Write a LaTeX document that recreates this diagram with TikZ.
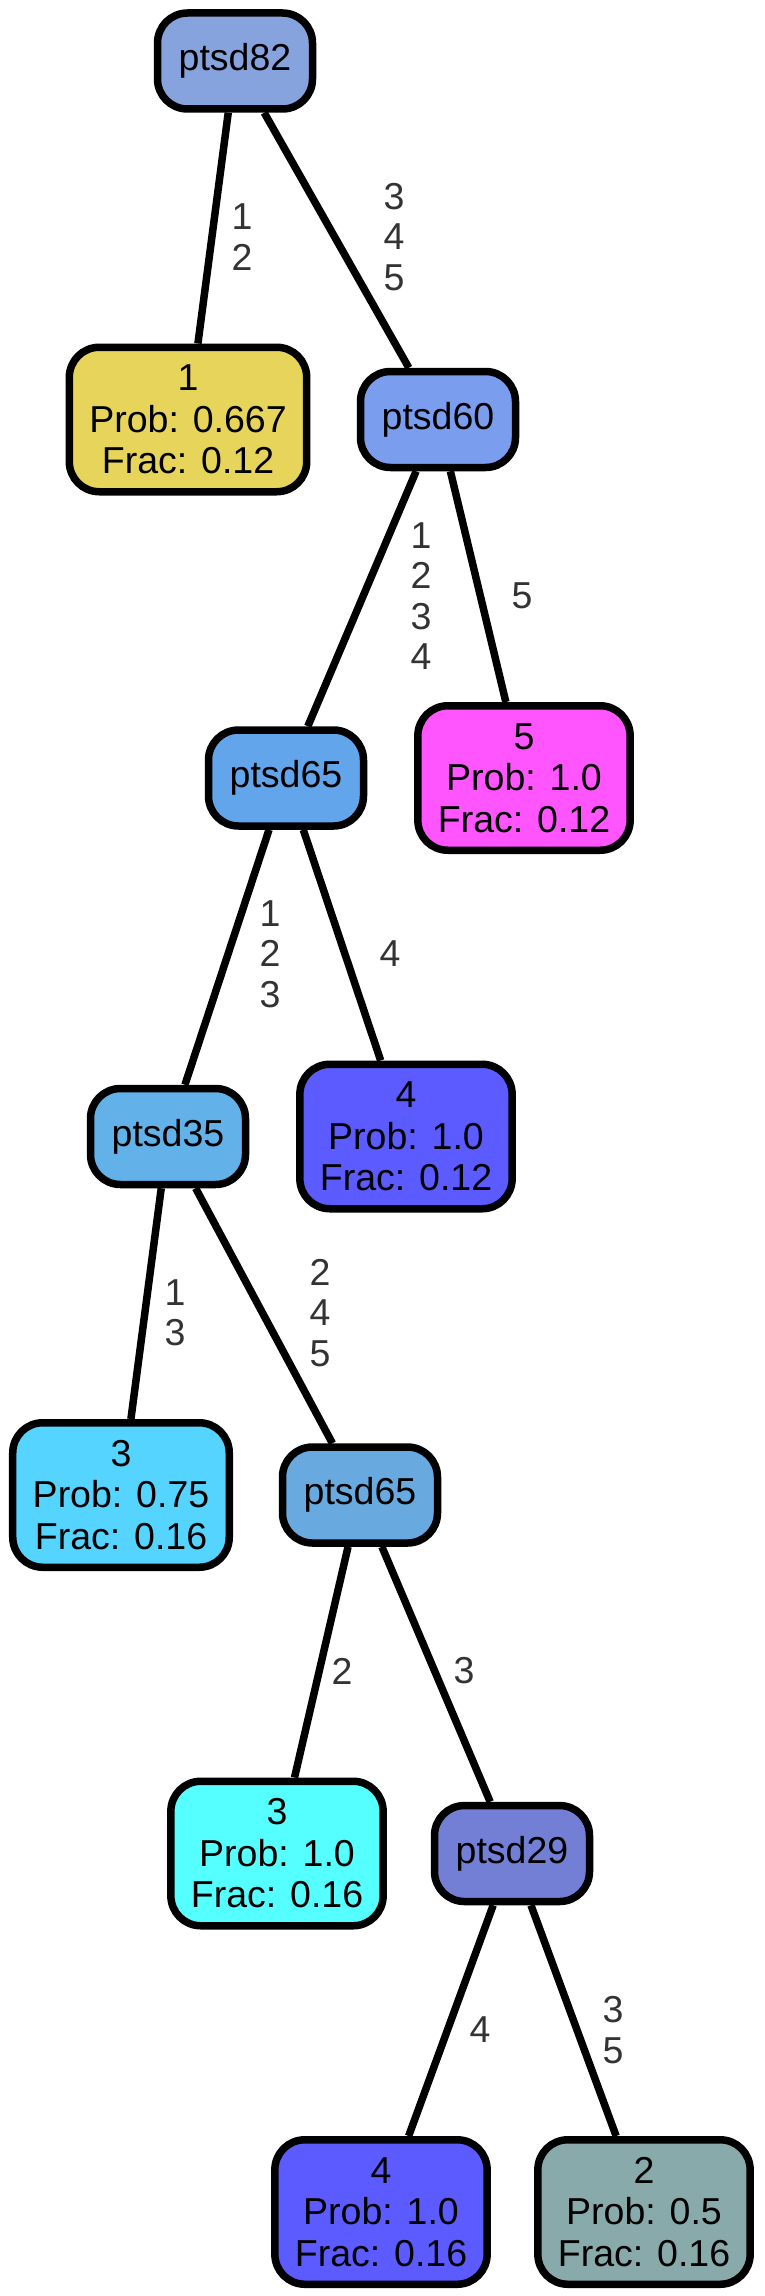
\documentclass[tikz,border=0pt]{standalone}
\usepackage{fontspec}
\setmainfont{Liberation Sans}
\definecolor{cA}{HTML}{87A3DE}
\definecolor{cB}{HTML}{E6D55A}
\definecolor{cC}{HTML}{7A9DED}
\definecolor{cD}{HTML}{62A5EA}
\definecolor{cE}{HTML}{FF55FF}
\definecolor{cF}{HTML}{62B1E8}
\definecolor{cG}{HTML}{5B5BFF}
\definecolor{cH}{HTML}{55D4FF}
\definecolor{cI}{HTML}{68A9E0}
\definecolor{cJ}{HTML}{55FFFF}
\definecolor{cK}{HTML}{727FD5}
\definecolor{cL}{HTML}{88AAAA}
\definecolor{labgray}{HTML}{333333}
\begin{document}
\begin{tikzpicture}[x=1pt,y=-1pt,
    tree/.style={draw=black,line width=7.5pt,rounded corners=30pt,align=center,
      font=\fontsize{37.5}{41.5}\selectfont,inner sep=0pt},
    split/.style={tree,minimum width=155pt,minimum height=96pt},
    leaf/.style={tree,minimum height=144.5pt,inner xsep=20pt},
    link/.style={line width=7.5pt},
    lab/.style={text=labgray,align=center,font=\fontsize{37.5}{40.5}\selectfont}]
    \useasboundingbox (0,0) rectangle (764,2296);

    %% splits
    \node[split,fill=cA] (p82) at (235,61) {ptsd82};
    \node[split,fill=cC] (p60) at (438,419.5) {ptsd60};
    \node[split,fill=cD] (p65a) at (286,778) {ptsd65};
    \node[split,fill=cF] (p35) at (168,1136.5) {ptsd35};
    \node[split,fill=cI] (p65b) at (360,1495) {ptsd65};
    \node[split,fill=cK] (p29) at (512,1853.5) {ptsd29};

    %% leaves
    \node[leaf,fill=cB] (lfa) at (188,419.5) {1\\Prob: 0.667\\Frac: 0.12};
    \node[leaf,fill=cE] (lfb) at (524,778) {5\\Prob: 1.0\\Frac: 0.12};
    \node[leaf,fill=cG] (lfc) at (406,1136.5) {4\\Prob: 1.0\\Frac: 0.12};
    \node[leaf,fill=cH] (lfd) at (121,1495) {3\\Prob: 0.75\\Frac: 0.16};
    \node[leaf,fill=cJ] (lfe) at (277,1853.5) {3\\Prob: 1.0\\Frac: 0.16};
    \node[leaf,fill=cG] (lff) at (381,2212) {4\\Prob: 1.0\\Frac: 0.16};
    \node[leaf,fill=cL] (lfg) at (644,2212) {2\\Prob: 0.5\\Frac: 0.16};

    %% edges
    \draw[link] (p82) -- (lfa);
    \draw[link] (p82) -- (p60);
    \draw[link] (p60) -- (p65a);
    \draw[link] (p60) -- (lfb);
    \draw[link] (p65a) -- (p35);
    \draw[link] (p65a) -- (lfc);
    \draw[link] (p35) -- (lfd);
    \draw[link] (p35) -- (p65b);
    \draw[link] (p65b) -- (lfe);
    \draw[link] (p65b) -- (p29);
    \draw[link] (p29) -- (lff);
    \draw[link] (p29) -- (lfg);

    %% edge labels
    \node[lab] (e1) at (242,237) {1\\2};
    \node[lab] (e2) at (394,237) {3\\4\\5};
    \node[lab] (e3) at (421,596) {1\\2\\3\\4};
    \node[lab] (e4) at (522,596) {5};
    \node[lab] (e5) at (270,954) {1\\2\\3};
    \node[lab] (e6) at (390,954) {4};
    \node[lab] (e7) at (175,1313) {1\\3};
    \node[lab] (e8) at (320,1313) {2\\4\\5};
    \node[lab] (e9) at (342,1671) {2};
    \node[lab] (e10) at (464,1671) {3};
    \node[lab] (e11) at (480,2030) {4};
    \node[lab] (e12) at (613,2030) {3\\5};
  \end{tikzpicture}
\end{document}
